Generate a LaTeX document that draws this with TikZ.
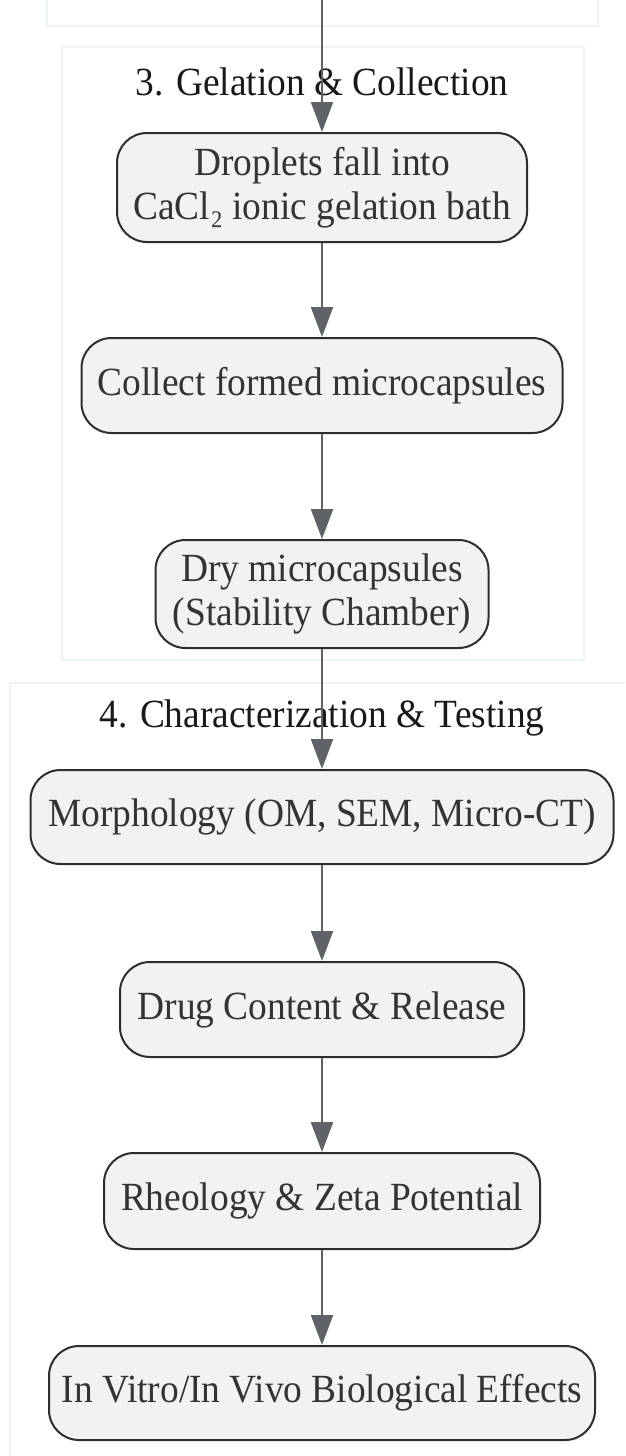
\documentclass[tikz,border=0pt]{standalone}
\usepackage{fontspec}
\setmainfont{Liberation Serif}[FakeStretch=0.935]
\usetikzlibrary{arrows.meta}
\definecolor{nodefill}{HTML}{F1F2F4}
\definecolor{nodeedge}{HTML}{2E2E2E}
\definecolor{arrowcol}{HTML}{5F6368}
\definecolor{clusteredge}{HTML}{EEF3F3}
\definecolor{txt}{HTML}{333333}
\tikzset{
  stepbox/.style={draw=nodeedge, fill=nodefill, line width=2pt, rounded corners=30pt,
    text=txt, align=center, inner sep=0pt, font=\fontsize{40}{44}\selectfont},
  cluster/.style={draw=clusteredge, fill=white, line width=2pt},
  ctitle/.style={text=black!90, font=\fontsize{40}{44}\selectfont, inner sep=0pt},
  flow/.style={draw=arrowcol, line width=2.2pt, -{Triangle[length=30pt,width=22pt]}}
}
\begin{document}
\begin{tikzpicture}[x=1pt,y=-1pt]
\useasboundingbox (0,0) rectangle (625,1456);
\clip (0,0) rectangle (625,1456);
\fill[white] (0,0) rectangle (625,1456);
% clusters
\draw[cluster] (47,-60) rectangle (598,26);
\draw[cluster] (62,47) rectangle (584,660);
\draw[cluster] (10,683) rectangle (660,1500);
\node[ctitle] (t3) at (322,82) {3. Gelation \& Collection};
\node[ctitle] (t4) at (322,718) {4. Characterization \& Testing};
% nodes
\node[stepbox, minimum width=410pt, minimum height=109pt] (n1) at (322,187.5) {Droplets fall into\\CaCl₂ ionic gelation bath};
\node[stepbox, minimum width=481pt, minimum height=95pt] (n2) at (322,385.5) {Collect formed microcapsules};
\node[stepbox, minimum width=333pt, minimum height=108pt] (n3) at (322,594) {Dry microcapsules\\(Stability Chamber)};
\node[stepbox, minimum width=583pt, minimum height=94pt] (n4) at (322,817) {Morphology (OM, SEM, Micro-CT)};
\node[stepbox, minimum width=404pt, minimum height=95pt] (n5) at (322,1009.5) {Drug Content \& Release};
\node[stepbox, minimum width=436pt, minimum height=96pt] (n6) at (322,1201) {Rheology \& Zeta Potential};
\node[stepbox, minimum width=546pt, minimum height=94pt] (n7) at (322,1393) {In Vitro/In Vivo Biological Effects};
% connectors
\coordinate (top) at (322,-5);
\draw[flow] (top) -- (n1.north);
\draw[flow] (n1) -- (n2);
\draw[flow] (n2) -- (n3);
\draw[flow] (n3) -- (n4);
\draw[flow] (n4) -- (n5);
\draw[flow] (n5) -- (n6);
\draw[flow] (n6) -- (n7);
\end{tikzpicture}
\end{document}
